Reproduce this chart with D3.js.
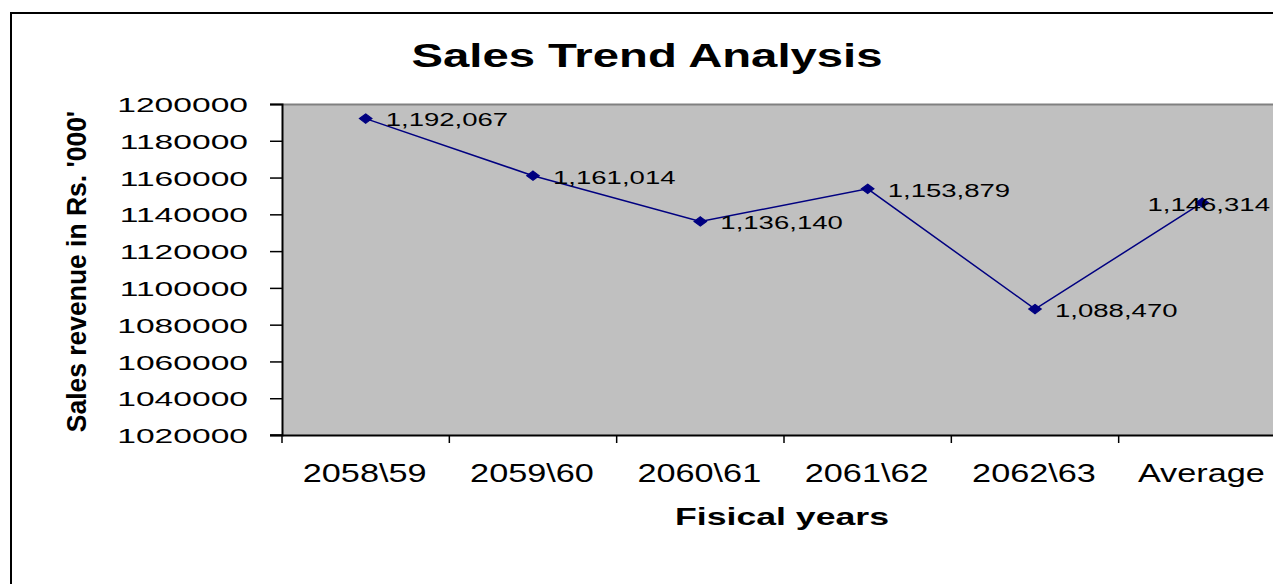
<!DOCTYPE html>
<html>
<head>
<meta charset="utf-8">
<script src="https://cdn.jsdelivr.net/npm/d3@7"></script>
<style>
    body { margin: 0; background: #fff; }
    svg { display: block; }
</style>
</head>
<body>
<div id="chart"></div>
<script>
// Values
const years = ["2058\\59", "2059\\60", "2060\\61", "2061\\62", "2062\\63", "Average"];
const revenue = [1192067, 1161014, 1136140, 1153879, 1088470, 1146314];
const yTicks = [1020000, 1040000, 1060000, 1080000, 1100000, 1120000, 1140000, 1160000, 1180000, 1200000];

const width = 1273, height = 584;
const plot = { left: 282, top: 104, right: 1286, bottom: 435 };
const font = "'Liberation Sans', Arial, sans-serif";

// the original picture is stretched sideways, so every text gets its own x-scale
const stretch = {
    title: 1.39,
    yTick: 1.6,
    xTick: 1.37,
    label: 1.45,
    xTitle: 1.55,
    yTitle: 0.98,
    marker: 1.35
};

const svg = d3.select("#chart").append("svg")
    .attr("width", width)
    .attr("height", height)
    .attr("font-family", font);

// outer chart border (runs off the right and bottom edge)
svg.append("rect")
    .attr("x", 11).attr("y", 13)
    .attr("width", 1300).attr("height", 620)
    .attr("fill", "#fff")
    .attr("stroke", "#000")
    .attr("stroke-width", 2);

let x = d3.scaleBand()
    .domain(years)
    .range([plot.left, plot.right]);

let y = d3.scaleLinear()
    .domain([1020000, 1200000])
    .range([plot.bottom, plot.top]);

// plot area
svg.append("rect")
    .attr("x", plot.left).attr("y", plot.top)
    .attr("width", plot.right - plot.left)
    .attr("height", plot.bottom - plot.top)
    .attr("fill", "#c0c0c0");
svg.append("line")
    .attr("x1", plot.left).attr("x2", plot.right)
    .attr("y1", plot.top + 0.5).attr("y2", plot.top + 0.5)
    .attr("stroke", "#808080").attr("stroke-width", 2);

// y axis
const yAxis = svg.append("g")
    .attr("transform", `translate(${plot.left},0)`)
    .call(d3.axisLeft(y).tickValues(yTicks).tickFormat(d3.format("d")).tickSize(12));
yAxis.select(".domain").attr("stroke", "#000").attr("stroke-width", 2);
yAxis.selectAll(".tick line").attr("stroke", "#000").attr("stroke-width", 1.5);
yAxis.selectAll("text")
    .attr("x", 0)
    .attr("dy", "0.36em")
    .attr("transform", `translate(-34,0) scale(${stretch.yTick},1)`)
    .attr("font-size", 21)
    .attr("fill", "#000");

// x axis
const xAxis = svg.append("g")
    .attr("transform", `translate(0,${plot.bottom})`)
    .call(d3.axisBottom(x).tickSize(0));
xAxis.select(".domain").attr("stroke", "#000").attr("stroke-width", 2);
xAxis.selectAll("text")
    .attr("y", 0)
    .attr("dy", 0)
    .attr("transform", `translate(-1,47) scale(${stretch.xTick},1)`)
    .attr("font-size", 25)
    .attr("fill", "#000");
// category boundary ticks
xAxis.selectAll(".bound")
    .data(years)
    .join("line")
        .attr("class", "bound")
        .attr("x1", d => x(d)).attr("x2", d => x(d))
        .attr("y1", 0).attr("y2", 8)
        .attr("stroke", "#000").attr("stroke-width", 1.5);
xAxis.append("line")
    .attr("x1", plot.left - 12).attr("x2", plot.left)
    .attr("y1", 0).attr("y2", 0)
    .attr("stroke", "#000").attr("stroke-width", 1.5);

// series line
const cx = d => x(d) + x.bandwidth() / 2;
svg.append("path")
    .datum(years.map((d, i) => [cx(d), y(revenue[i])]))
    .attr("fill", "none")
    .attr("stroke", "#000080")
    .attr("stroke-width", 1.5)
    .attr("d", d3.line());

svg.selectAll(".marker")
    .data(years)
    .join("path")
        .attr("class", "marker")
        .attr("transform", (d, i) => `translate(${cx(d)},${y(revenue[i])}) scale(${stretch.marker},1)`)
        .attr("d", d3.symbol(d3.symbolDiamond2, 55))
        .attr("fill", "#000080")
        .attr("stroke", "#000080")
        .attr("stroke-width", 1);

// data labels, pushed back inside when they would run off the edge
const fmt = d3.format(",");
svg.selectAll(".dlabel")
    .data(years)
    .join("text")
        .attr("class", "dlabel")
        .attr("font-size", 19)
        .attr("fill", "#000")
        .attr("dy", "0.36em")
        .text((d, i) => fmt(revenue[i]))
        .attr("transform", function(d, i) {
            let lx = cx(d) + 20;
            const w = this.getComputedTextLength() * stretch.label;
            if (lx + w > width - 3)
                lx = width - 3 - w;
            return `translate(${lx},${y(revenue[i]) + 1}) scale(${stretch.label},1)`;
        });

// titles
svg.append("text")
    .attr("transform", `translate(647,67) scale(${stretch.title},1)`)
    .attr("text-anchor", "middle")
    .attr("font-weight", "bold")
    .attr("font-size", 34)
    .text("Sales Trend Analysis");

svg.append("text")
    .attr("transform", `translate(782,525) scale(${stretch.xTitle},1)`)
    .attr("text-anchor", "middle")
    .attr("font-weight", "bold")
    .attr("font-size", 23)
    .text("Fisical years");

svg.append("text")
    .attr("transform", `translate(86,${(plot.top + plot.bottom) / 2 + 2}) rotate(-90) scale(${stretch.yTitle},1)`)
    .attr("text-anchor", "middle")
    .attr("font-weight", "bold")
    .attr("font-size", 27)
    .text("Sales revenue in Rs. '000'");
</script>
</body>
</html>
